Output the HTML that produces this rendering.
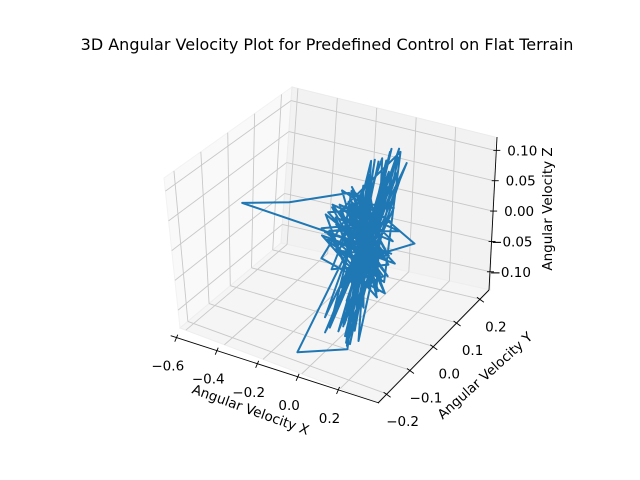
<!DOCTYPE html>
<html><head><meta charset="utf-8"><style>
html,body{margin:0;padding:0;background:#fff;}
svg{display:block;font-family:"DejaVu Sans","Liberation Sans",sans-serif;}
</style></head><body>
<svg id="chart" width="640" height="480" viewBox="0 0 640 480" xmlns="http://www.w3.org/2000/svg">
<rect width="640" height="480" fill="#fff"/>
<text x="327" y="50" text-anchor="middle" font-size="16" fill="#000">3D Angular Velocity Plot for Predefined Control on Flat Terrain</text>
<g id="panes"></g>
<g id="grid"></g>
<g id="axes"></g>
<g id="series"></g>
<text transform="translate(249,414) rotate(20)" text-anchor="middle" font-size="13.5">Angular Velocity X</text>
<text transform="translate(488,379) rotate(-42)" text-anchor="middle" font-size="13.5">Angular Velocity Y</text>
<text transform="translate(552,209) rotate(-90)" text-anchor="middle" font-size="13.5">Angular Velocity Z</text>
</svg>
<script>
const xTicks=[-0.6,-0.4,-0.2,0.0,0.2];
const yTicks=[-0.2,-0.1,0.0,0.1,0.2];
const zTicks=[-0.10,-0.05,0.00,0.05,0.10];
const xLabels=["\u22120.6","\u22120.4","\u22120.2","0.0","0.2"];
const yLabels=["\u22120.2","\u22120.1","0.0","0.1","0.2"];
const zLabels=["\u22120.10","\u22120.05","0.00","0.05","0.10"];
const xVals=[0.00,0.04,-0.03,0.06,-0.01,0.02,-0.06,0.07,-0.02,0.03,-0.60,-0.40,-0.05,0.01,-0.04,0.05,-0.01,0.09,-0.07,0.02,0.04,-0.03,0.00,0.06,-0.05,0.03,-0.02,0.18,0.01,-0.04,0.05,-0.01,0.02,-0.05,0.03,-0.03,0.07,0.00,-0.06,0.04,-0.05,0.10,0.02,-0.02,0.05,-0.04,0.01,0.06,-0.02,0.03,-0.10,0.00,0.04,-0.03,0.08,-0.01,0.02,-0.05,0.05,0.00,-0.12,0.03,-0.02,0.06,-0.04,0.01,0.04,-0.03,0.02,-0.01,0.07,-0.06,0.03,-0.02,0.05,0.00,-0.08,0.04,0.01,-0.03,0.12,-0.01,0.02,-0.05,0.06,0.00,-0.02,0.03,-0.04,0.05,
0.09,0.00,0.07,-0.05,0.12,0.02,0.02,0.06,0.04,0.04,0.00,0.03,0.11,-0.03,0.05,0.05,-0.02,0.02,0.10,-0.01,0.08,-0.02,0.12,0.00,-0.01,0.03,0.09,-0.03,0.05,0.06,0.02,0.04,0.04,-0.04,0.11,0.02,0.03,0.05,0.07,-0.03];
const yVals=[0.03,0.08,-0.02,0.12,-0.08,0.05,0.00,0.09,-0.10,0.13,0.03,0.06,0.02,0.07,-0.04,0.10,0.00,0.06,-0.06,0.11,0.15,-0.03,0.04,0.02,-0.09,0.09,0.01,0.10,0.05,-0.07,0.12,0.02,-0.05,0.14,0.03,-0.11,0.07,0.00,0.08,-0.02,-0.21,-0.12,0.04,0.10,-0.03,0.06,-0.08,0.11,0.01,0.07,-0.05,0.13,0.00,0.05,-0.04,0.09,-0.06,0.03,0.08,-0.01,0.02,0.12,-0.07,0.05,0.01,0.10,-0.02,0.06,0.02,-0.09,0.13,-0.01,0.04,0.08,-0.05,0.06,-0.03,0.11,0.01,-0.06,0.02,0.07,-0.03,0.04,0.09,-0.04,0.12,0.00,-0.08,0.06,
-0.12,0.14,-0.10,0.12,-0.14,0.13,-0.09,0.16,-0.05,0.10,-0.13,0.15,-0.08,0.09,-0.15,0.12,-0.04,0.17,-0.11,0.06,-0.07,0.13,-0.01,0.11,-0.12,0.08,-0.10,0.15,-0.03,0.09,-0.14,0.14,-0.08,0.10,-0.13,0.16,-0.06,0.05,-0.11,0.12];
const zVals=[-0.02,0.04,0.06,-0.07,0.03,-0.09,0.08,0.01,0.05,-0.06,0.00,0.01,0.07,-0.08,0.04,-0.05,0.09,-0.03,0.02,-0.10,0.10,0.06,-0.07,0.03,0.05,-0.09,0.08,-0.02,-0.04,0.07,0.02,-0.08,0.06,-0.04,0.09,0.01,-0.10,0.05,-0.06,0.03,-0.11,-0.12,0.08,-0.05,0.04,-0.09,0.07,-0.03,0.06,-0.11,0.02,-0.07,0.05,-0.04,0.09,-0.08,0.03,0.07,-0.10,0.04,-0.03,-0.06,0.08,-0.09,0.06,-0.05,0.02,0.07,-0.11,0.05,-0.02,0.06,-0.08,0.03,-0.06,0.09,-0.04,-0.07,0.04,0.08,-0.05,-0.09,0.06,0.01,-0.08,0.05,-0.03,-0.10,0.07,-0.04,
-0.10,0.10,-0.12,0.09,-0.09,0.11,-0.11,0.08,-0.04,0.06,-0.10,0.09,-0.12,0.10,-0.08,0.07,-0.06,0.05,-0.10,0.08,-0.11,0.06,-0.07,0.10,-0.08,0.04,-0.12,0.08,-0.05,0.09,-0.09,0.07,-0.10,0.05,-0.11,0.10,-0.07,0.03,-0.09,0.09];

const XMIN=-0.63,XMAX=0.40,YMIN=-0.237,YMAX=0.239,ZMIN=-0.13,ZMAX=0.122;
const C={L0:[180,328],F0:[379,403],B0:[281,243],R0:[490,290],L1:[164,178],F1:[373,243],B1:[292,87],R1:[495,137]};
function lerp(a,b,t){return [a[0]+(b[0]-a[0])*t,a[1]+(b[1]-a[1])*t];}
function proj(x,y,z){
  const u=(x-XMIN)/(XMAX-XMIN),v=(y-YMIN)/(YMAX-YMIN),w=(z-ZMIN)/(ZMAX-ZMIN);
  const f=lerp(lerp(C.L0,C.F0,u),lerp(C.B0,C.R0,u),v);
  const t=lerp(lerp(C.L1,C.F1,u),lerp(C.B1,C.R1,u),v);
  return lerp(f,t,w);
}
const NS="http://www.w3.org/2000/svg";
function mk(tag,attrs,parent){const e=document.createElementNS(NS,tag);for(const k in attrs)e.setAttribute(k,attrs[k]);parent.appendChild(e);return e;}
const panes=document.getElementById('panes'),grid=document.getElementById('grid'),axes=document.getElementById('axes'),series=document.getElementById('series');
function poly(pts){return pts.map(p=>p.join(',')).join(' ');}
let p;
p=mk('polygon',{points:poly([C.L0,C.B0,C.B1,C.L1]),fill:'#f9f9f9',stroke:'#f2f2f2'},panes);


p=mk('polygon',{points:poly([C.B0,C.R0,C.R1,C.B1]),fill:'#f2f2f2',stroke:'#ebebeb'},panes);


p=mk('polygon',{points:poly([C.L0,C.F0,C.R0,C.B0]),fill:'#f5f5f5',stroke:'#eeeeee'},panes);


function gl(a,b,name){const l=mk('line',{x1:a[0],y1:a[1],x2:b[0],y2:b[1],stroke:'#c8c8c8','stroke-width':0.9},grid);

}
xTicks.forEach(t=>{gl(proj(t,YMIN,ZMIN),proj(t,YMAX,ZMIN),'x-grid-floor');gl(proj(t,YMAX,ZMIN),proj(t,YMAX,ZMAX),'x-grid-wall');});
yTicks.forEach(t=>{gl(proj(XMIN,t,ZMIN),proj(XMAX,t,ZMIN),'y-grid-floor');gl(proj(XMIN,t,ZMIN),proj(XMIN,t,ZMAX),'y-grid-wall');});
zTicks.forEach(t=>{gl(proj(XMIN,YMIN,t),proj(XMIN,YMAX,t),'z-grid-left');gl(proj(XMIN,YMAX,t),proj(XMAX,YMAX,t),'z-grid-back');});
function axisLine(a,b,name){const l=mk('line',{x1:a[0],y1:a[1],x2:b[0],y2:b[1],stroke:'#000','stroke-width':0.9},axes);

}
const XA=[[170.7,335.7],[379,403]],YA=[[378,403],[489,290]],ZA=[[489,290],[497,137]];
axisLine(XA[0],XA[1],'x-axis-line');axisLine(YA[0],YA[1],'y-axis-line');axisLine(ZA[0],ZA[1],'z-axis-line');
function lab(x,y,s,anchor,name){const t=mk('text',{x:x,y:y,'text-anchor':anchor,'font-size':13.5,fill:'#000'},axes);t.textContent=s;

}
function tk(a,b,name){const l=mk('line',{x1:a[0],y1:a[1],x2:b[0],y2:b[1],stroke:'#000','stroke-width':0.9},axes);

}
xTicks.forEach((t,i)=>{const q=lerp(XA[0],XA[1],(t-XMIN)/(XMAX-XMIN));tk([q[0]+1,q[1]-3],[q[0]-2,q[1]+4],'x-tick');lab(q[0]-9,q[1]+33,xLabels[i],'middle','x-tick-label');});
yTicks.forEach((t,i)=>{const q=lerp(YA[0],YA[1],(t-YMIN)/(YMAX-YMIN));tk([q[0]-3,q[1]-2],[q[0]+4,q[1]+3],'y-tick');lab(q[0]+16,q[1]+32,yLabels[i],'middle','y-tick-label');});
zTicks.forEach((t,i)=>{const q=lerp(ZA[0],ZA[1],(t-ZMIN)/(ZMAX-ZMIN));tk([q[0]-3,q[1]],[q[0]+4,q[1]],'z-tick');lab(q[0]+41,q[1]+5,zLabels[i],'end','z-tick-label');});
const pts=xVals.map((x,i)=>proj(x,yVals[i],zVals[i]));
const line=mk('polyline',{points:poly(pts.map(q=>[q[0].toFixed(1),q[1].toFixed(1)])),fill:'none',stroke:'#1f77b4','stroke-width':2,'stroke-linejoin':'round'},series);


</script>
</body></html>
